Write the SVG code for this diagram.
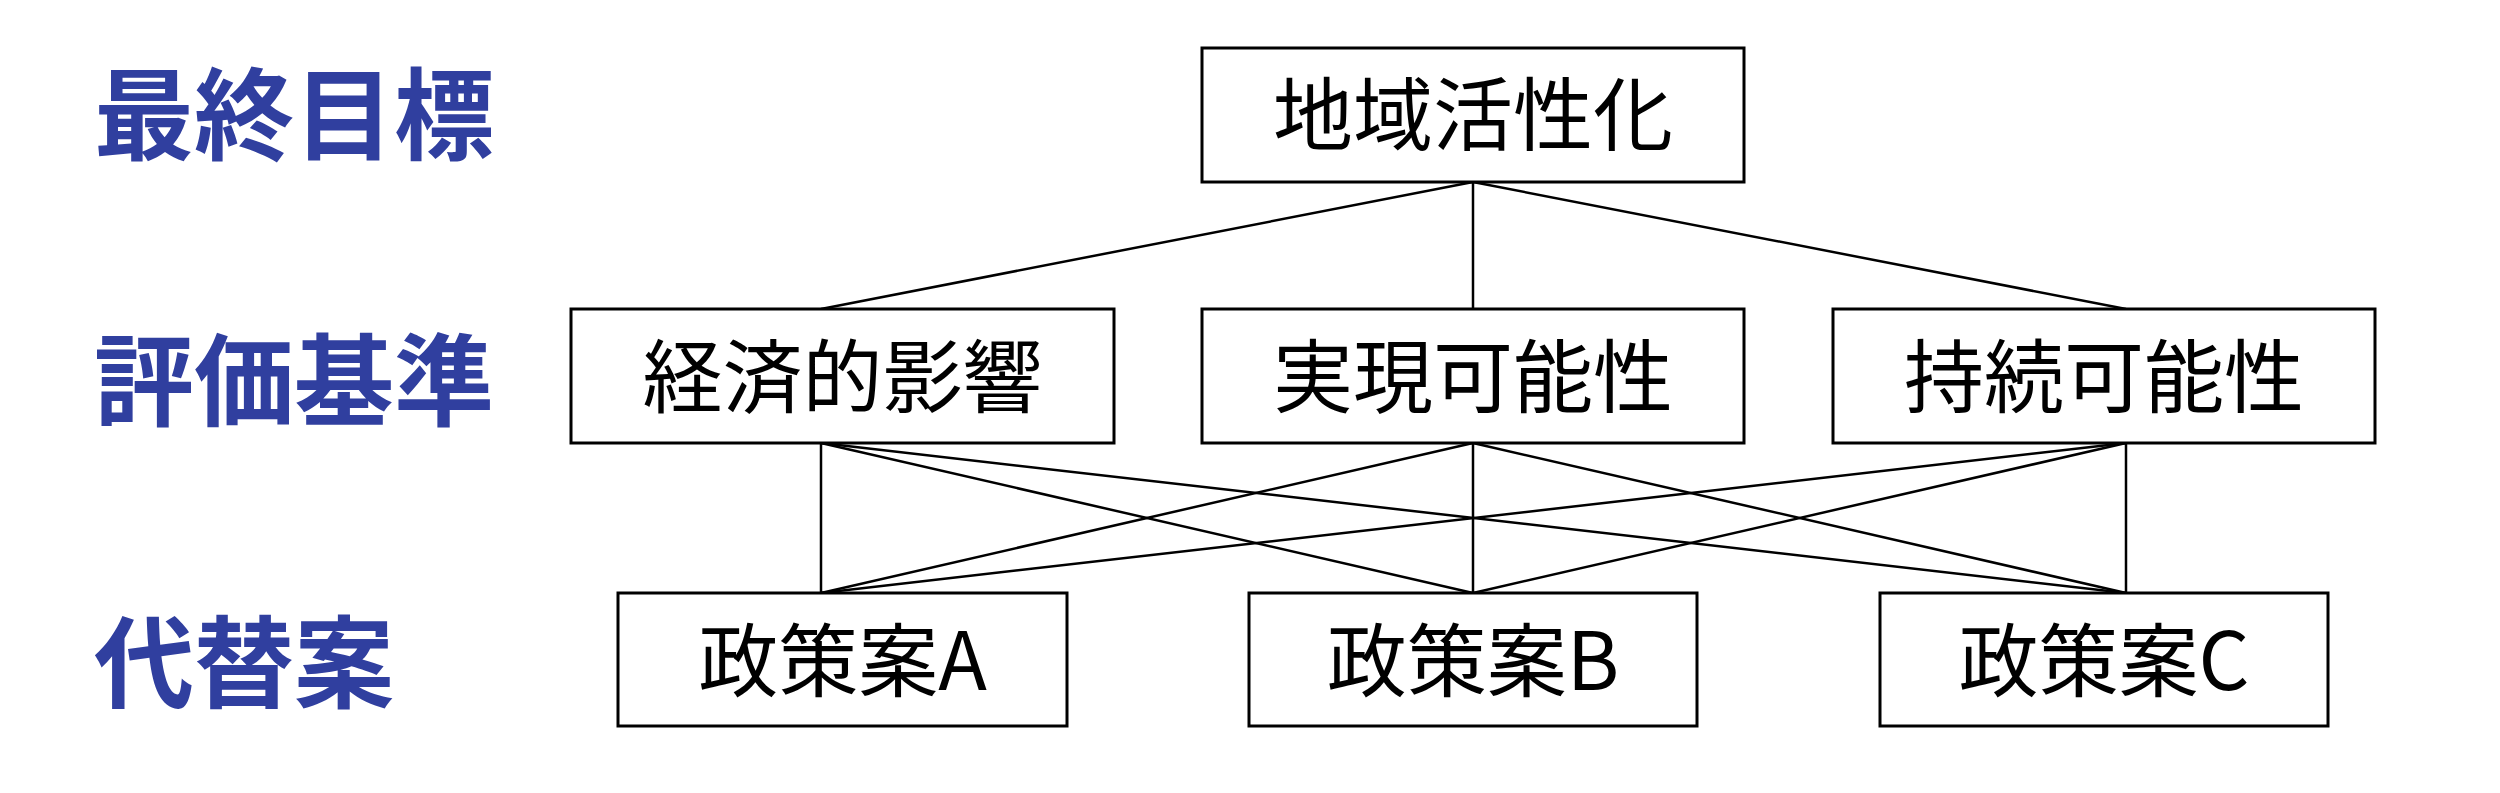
<svg xmlns="http://www.w3.org/2000/svg" width="2500" height="793" viewBox="0 0 2500 793">
<style>
.box{fill:#fff;stroke:#000;stroke-width:3}
.t{font-family:"Noto Sans CJK JP","Noto Sans CJK SC",sans-serif;font-size:80px;fill:#000;text-anchor:middle}
.lab{font-family:"Noto Sans CJK JP","Noto Sans CJK SC",sans-serif;font-size:100px;font-weight:700;fill:#303F9F}
#connectors line{stroke:#000;stroke-width:2.5}
</style>
<rect width="2500" height="793" fill="#fff"/>
<g id="labels">
<text class="lab" x="94" y="152">最終目標</text>
<text class="lab" x="94" y="418">評価基準</text>
<text class="lab" x="94" y="700">代替案</text>
</g>
<g id="connectors">
<line x1="1473" y1="182" x2="821" y2="309"/>
<line x1="1473" y1="182" x2="1473" y2="309"/>
<line x1="1473" y1="182" x2="2126" y2="309"/>
<line x1="821" y1="443" x2="821" y2="593"/>
<line x1="821" y1="443" x2="1473" y2="593"/>
<line x1="821" y1="443" x2="2126" y2="593"/>
<line x1="1473" y1="443" x2="821" y2="593"/>
<line x1="1473" y1="443" x2="1473" y2="593"/>
<line x1="1473" y1="443" x2="2126" y2="593"/>
<line x1="2126" y1="443" x2="821" y2="593"/>
<line x1="2126" y1="443" x2="1473" y2="593"/>
<line x1="2126" y1="443" x2="2126" y2="593"/>
</g>
<g id="goal"><rect class="box" x="1202" y="48" width="542" height="134"/><text class="t" x="1473" y="144">地域活性化</text></g>
<g id="crit1"><rect class="box" x="571" y="309" width="543" height="134"/><text class="t" x="842.5" y="406">経済的影響</text></g>
<g id="crit2"><rect class="box" x="1202" y="309" width="542" height="134"/><text class="t" x="1473" y="406">実現可能性</text></g>
<g id="crit3"><rect class="box" x="1833" y="309" width="542" height="134"/><text class="t" x="2104" y="406">持続可能性</text></g>
<g id="altA"><rect class="box" x="618" y="593" width="449" height="133"/><text class="t" x="842.5" y="690">政策案A</text></g>
<g id="altB"><rect class="box" x="1249" y="593" width="448" height="133"/><text class="t" x="1473" y="690">政策案B</text></g>
<g id="altC"><rect class="box" x="1880" y="593" width="448" height="133"/><text class="t" x="2104" y="690">政策案C</text></g>
</svg>
